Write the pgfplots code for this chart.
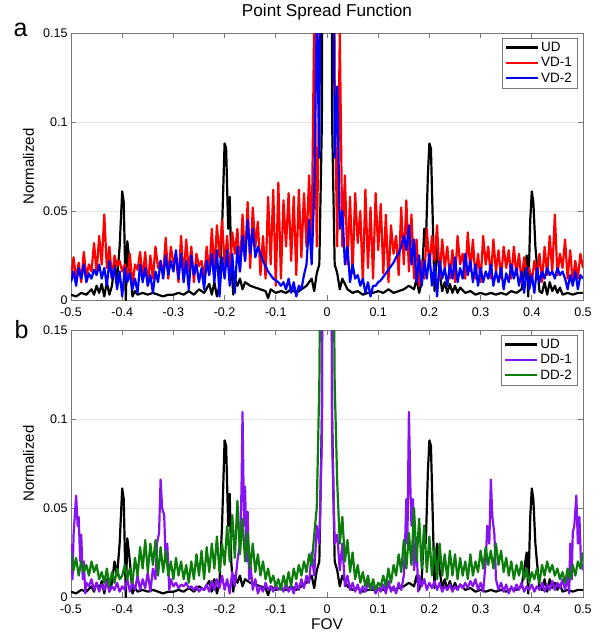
\documentclass[border=0pt]{standalone}
\usepackage{fontspec}
\setmainfont{Liberation Sans}
\usepackage{pgfplots}
\usepackage{pgfplotstable}
\pgfplotsset{compat=1.18}

\definecolor{ddone}{RGB}{135,20,240}
\definecolor{ddtwo}{RGB}{10,125,10}
\definecolor{framegray}{RGB}{120,120,120}

% undersampled (UD), same in both panels
\pgfplotstableread[row sep=\\]{x y\\
-0.500 0.003\\ -0.490 0.002\\ -0.480 0.004\\ -0.470 0.003\\ -0.460 0.006\\ -0.455 0.003\\ -0.450 0.008\\ -0.445 0.004\\
-0.440 0.009\\ -0.435 0.002\\ -0.430 0.010\\ -0.425 0.003\\ -0.420 0.008\\ -0.415 0.020\\ -0.410 0.012\\ -0.405 0.030\\
-0.400 0.061\\ -0.397 0.055\\ -0.393 0.000\\ -0.390 0.033\\ -0.385 0.020\\ -0.380 0.002\\ -0.375 0.005\\ -0.370 0.003\\
-0.360 0.004\\ -0.350 0.003\\ -0.340 0.004\\ -0.330 0.003\\ -0.320 0.002\\ -0.310 0.003\\ -0.300 0.003\\ -0.290 0.004\\
-0.280 0.003\\ -0.270 0.005\\ -0.260 0.003\\ -0.250 0.006\\ -0.240 0.004\\ -0.230 0.009\\ -0.225 0.003\\ -0.220 0.010\\
-0.215 0.002\\ -0.210 0.008\\ -0.205 0.040\\ -0.200 0.088\\ -0.197 0.085\\ -0.193 0.040\\ -0.190 0.058\\ -0.187 0.020\\
-0.183 0.003\\ -0.180 0.012\\ -0.175 0.008\\ -0.170 0.012\\ -0.165 0.006\\ -0.160 0.010\\ -0.150 0.008\\ -0.140 0.007\\
-0.130 0.006\\ -0.120 0.005\\ -0.115 0.001\\ -0.110 0.006\\ -0.100 0.004\\ -0.090 0.005\\ -0.080 0.004\\ -0.070 0.006\\
-0.060 0.004\\ -0.050 0.006\\ -0.040 0.008\\ -0.030 0.012\\ -0.025 0.005\\ -0.020 0.015\\ -0.015 0.020\\ -0.010 0.100\\
-0.005 0.800\\ 0.000 1.000\\ 0.005 0.800\\ 0.010 0.100\\ 0.015 0.020\\ 0.020 0.015\\ 0.025 0.006\\ 0.030 0.012\\
0.040 0.006\\ 0.050 0.004\\ 0.060 0.005\\ 0.070 0.003\\ 0.080 0.004\\ 0.090 0.004\\ 0.100 0.005\\ 0.110 0.004\\
0.120 0.006\\ 0.130 0.004\\ 0.140 0.005\\ 0.150 0.006\\ 0.160 0.008\\ 0.170 0.006\\ 0.175 0.012\\ 0.180 0.004\\
0.185 0.010\\ 0.190 0.040\\ 0.193 0.030\\ 0.197 0.070\\ 0.200 0.088\\ 0.203 0.085\\ 0.207 0.040\\ 0.210 0.005\\
0.215 0.030\\ 0.220 0.015\\ 0.225 0.005\\ 0.230 0.010\\ 0.235 0.004\\ 0.240 0.009\\ 0.245 0.004\\ 0.250 0.008\\
0.255 0.004\\ 0.260 0.007\\ 0.270 0.004\\ 0.280 0.005\\ 0.290 0.003\\ 0.300 0.004\\ 0.310 0.003\\ 0.320 0.004\\
0.330 0.003\\ 0.340 0.004\\ 0.350 0.003\\ 0.360 0.005\\ 0.370 0.004\\ 0.380 0.006\\ 0.385 0.015\\ 0.390 0.025\\
0.393 0.002\\ 0.397 0.045\\ 0.400 0.061\\ 0.403 0.055\\ 0.407 0.030\\ 0.410 0.020\\ 0.415 0.005\\ 0.420 0.004\\
0.425 0.010\\ 0.430 0.003\\ 0.435 0.010\\ 0.440 0.005\\ 0.445 0.008\\ 0.450 0.004\\ 0.455 0.007\\ 0.460 0.003\\
0.470 0.004\\ 0.480 0.003\\ 0.490 0.004\\ 0.500 0.004\\
}\udtab

\pgfplotstableread[row sep=\\]{x y\\
-0.500 0.012\\ -0.495 0.024\\ -0.490 0.012\\ -0.485 0.021\\ -0.480 0.010\\ -0.475 0.027\\ -0.470 0.013\\ -0.465 0.020\\
-0.460 0.016\\ -0.455 0.032\\ -0.450 0.015\\ -0.445 0.036\\ -0.440 0.020\\ -0.435 0.048\\ -0.430 0.018\\ -0.425 0.030\\
-0.420 0.012\\ -0.415 0.025\\ -0.410 0.019\\ -0.405 0.022\\ -0.400 0.016\\ -0.395 0.020\\ -0.390 0.012\\ -0.385 0.026\\
-0.380 0.008\\ -0.375 0.020\\ -0.370 0.017\\ -0.365 0.027\\ -0.360 0.012\\ -0.355 0.027\\ -0.350 0.008\\ -0.345 0.025\\
-0.340 0.012\\ -0.335 0.030\\ -0.330 0.018\\ -0.325 0.022\\ -0.320 0.014\\ -0.315 0.035\\ -0.310 0.012\\ -0.305 0.030\\
-0.300 0.021\\ -0.295 0.024\\ -0.290 0.010\\ -0.285 0.036\\ -0.280 0.012\\ -0.275 0.034\\ -0.270 0.016\\ -0.265 0.030\\
-0.260 0.010\\ -0.255 0.026\\ -0.250 0.019\\ -0.245 0.022\\ -0.240 0.012\\ -0.235 0.030\\ -0.230 0.014\\ -0.225 0.040\\
-0.220 0.016\\ -0.215 0.042\\ -0.210 0.024\\ -0.205 0.045\\ -0.200 0.020\\ -0.195 0.036\\ -0.190 0.014\\ -0.185 0.038\\
-0.180 0.026\\ -0.175 0.040\\ -0.170 0.016\\ -0.165 0.048\\ -0.160 0.022\\ -0.155 0.055\\ -0.150 0.018\\ -0.145 0.052\\
-0.140 0.030\\ -0.135 0.044\\ -0.130 0.014\\ -0.125 0.036\\ -0.120 0.012\\ -0.115 0.058\\ -0.110 0.020\\ -0.105 0.062\\
-0.100 0.008\\ -0.095 0.066\\ -0.090 0.012\\ -0.085 0.056\\ -0.080 0.030\\ -0.075 0.060\\ -0.070 0.022\\ -0.065 0.058\\
-0.060 0.014\\ -0.055 0.062\\ -0.050 0.024\\ -0.045 0.060\\ -0.040 0.030\\ -0.035 0.070\\ -0.030 0.028\\ -0.025 0.160\\
-0.020 0.030\\ -0.015 0.120\\ -0.010 0.400\\ -0.005 0.850\\ 0.000 1.000\\ 0.005 0.850\\ 0.010 0.400\\ 0.015 0.120\\
0.020 0.030\\ 0.025 0.150\\ 0.030 0.030\\ 0.035 0.070\\ 0.040 0.020\\ 0.045 0.058\\ 0.050 0.015\\ 0.055 0.060\\
0.060 0.032\\ 0.065 0.050\\ 0.070 0.010\\ 0.075 0.062\\ 0.080 0.018\\ 0.085 0.052\\ 0.090 0.012\\ 0.095 0.060\\
0.100 0.028\\ 0.105 0.054\\ 0.110 0.015\\ 0.115 0.048\\ 0.120 0.010\\ 0.125 0.042\\ 0.130 0.026\\ 0.135 0.036\\
0.140 0.014\\ 0.145 0.052\\ 0.150 0.020\\ 0.155 0.056\\ 0.160 0.016\\ 0.165 0.048\\ 0.170 0.012\\ 0.175 0.034\\
0.180 0.008\\ 0.185 0.022\\ 0.190 0.012\\ 0.195 0.040\\ 0.200 0.018\\ 0.205 0.036\\ 0.210 0.022\\ 0.215 0.042\\
0.220 0.012\\ 0.225 0.034\\ 0.230 0.018\\ 0.235 0.030\\ 0.240 0.012\\ 0.245 0.028\\ 0.250 0.010\\ 0.255 0.036\\
0.260 0.020\\ 0.265 0.026\\ 0.270 0.012\\ 0.275 0.038\\ 0.280 0.016\\ 0.285 0.034\\ 0.290 0.012\\ 0.295 0.026\\
0.300 0.010\\ 0.305 0.036\\ 0.310 0.020\\ 0.315 0.030\\ 0.320 0.012\\ 0.325 0.034\\ 0.330 0.016\\ 0.335 0.028\\
0.340 0.012\\ 0.345 0.030\\ 0.350 0.018\\ 0.355 0.028\\ 0.360 0.012\\ 0.365 0.030\\ 0.370 0.014\\ 0.375 0.026\\
0.380 0.010\\ 0.385 0.024\\ 0.390 0.016\\ 0.395 0.018\\ 0.400 0.010\\ 0.405 0.022\\ 0.410 0.014\\ 0.415 0.026\\
0.420 0.010\\ 0.425 0.030\\ 0.430 0.014\\ 0.435 0.036\\ 0.440 0.016\\ 0.445 0.048\\ 0.450 0.014\\ 0.455 0.026\\
0.460 0.018\\ 0.465 0.034\\ 0.470 0.012\\ 0.475 0.028\\ 0.480 0.010\\ 0.485 0.022\\ 0.490 0.012\\ 0.495 0.026\\
0.500 0.018\\
}\vdonetab

\pgfplotstableread[row sep=\\]{x y\\
-0.500 0.010\\ -0.495 0.016\\ -0.490 0.008\\ -0.485 0.018\\ -0.480 0.012\\ -0.475 0.020\\ -0.470 0.010\\ -0.465 0.015\\
-0.460 0.012\\ -0.455 0.017\\ -0.450 0.014\\ -0.445 0.020\\ -0.440 0.012\\ -0.435 0.018\\ -0.430 0.008\\ -0.425 0.022\\
-0.420 0.012\\ -0.415 0.018\\ -0.410 0.006\\ -0.405 0.016\\ -0.400 0.002\\ -0.395 0.018\\ -0.390 0.010\\ -0.385 0.015\\
-0.380 0.006\\ -0.375 0.012\\ -0.370 0.004\\ -0.365 0.020\\ -0.360 0.010\\ -0.355 0.018\\ -0.350 0.008\\ -0.345 0.014\\
-0.340 0.004\\ -0.335 0.016\\ -0.330 0.010\\ -0.325 0.022\\ -0.320 0.012\\ -0.315 0.025\\ -0.310 0.014\\ -0.305 0.022\\
-0.300 0.016\\ -0.295 0.028\\ -0.290 0.012\\ -0.285 0.026\\ -0.280 0.010\\ -0.275 0.022\\ -0.270 0.006\\ -0.265 0.025\\
-0.260 0.014\\ -0.255 0.020\\ -0.250 0.010\\ -0.245 0.018\\ -0.240 0.006\\ -0.235 0.022\\ -0.230 0.014\\ -0.225 0.026\\
-0.220 0.010\\ -0.215 0.028\\ -0.210 0.002\\ -0.205 0.024\\ -0.200 0.012\\ -0.195 0.028\\ -0.190 0.008\\ -0.185 0.026\\
-0.180 0.004\\ -0.175 0.030\\ -0.170 0.016\\ -0.165 0.036\\ -0.160 0.022\\ -0.155 0.045\\ -0.150 0.026\\ -0.145 0.040\\
-0.140 0.024\\ -0.135 0.030\\ -0.130 0.026\\ -0.125 0.022\\ -0.120 0.019\\ -0.115 0.016\\ -0.110 0.014\\ -0.105 0.012\\
-0.100 0.011\\ -0.095 0.010\\ -0.090 0.008\\ -0.085 0.010\\ -0.080 0.006\\ -0.075 0.012\\ -0.070 0.004\\ -0.065 0.010\\
-0.060 0.002\\ -0.055 0.008\\ -0.050 0.006\\ -0.045 0.014\\ -0.040 0.020\\ -0.035 0.045\\ -0.030 0.020\\ -0.025 0.060\\
-0.020 0.160\\ -0.015 0.080\\ -0.010 0.400\\ -0.005 0.850\\ 0.000 1.000\\ 0.005 0.850\\ 0.010 0.400\\ 0.015 0.080\\
0.020 0.120\\ 0.025 0.040\\ 0.030 0.050\\ 0.035 0.020\\ 0.040 0.030\\ 0.045 0.010\\ 0.050 0.020\\ 0.055 0.012\\
0.060 0.014\\ 0.065 0.008\\ 0.070 0.012\\ 0.075 0.004\\ 0.080 0.010\\ 0.085 0.002\\ 0.090 0.008\\ 0.095 0.008\\
0.100 0.010\\ 0.105 0.011\\ 0.110 0.013\\ 0.115 0.015\\ 0.120 0.017\\ 0.125 0.019\\ 0.130 0.021\\ 0.135 0.024\\
0.140 0.026\\ 0.145 0.030\\ 0.150 0.036\\ 0.155 0.028\\ 0.160 0.042\\ 0.165 0.020\\ 0.170 0.034\\ 0.175 0.010\\
0.180 0.025\\ 0.185 0.008\\ 0.190 0.022\\ 0.195 0.012\\ 0.200 0.026\\ 0.205 0.008\\ 0.210 0.020\\ 0.215 0.002\\
0.220 0.022\\ 0.225 0.012\\ 0.230 0.018\\ 0.235 0.008\\ 0.240 0.020\\ 0.245 0.012\\ 0.250 0.024\\ 0.255 0.010\\
0.260 0.018\\ 0.265 0.012\\ 0.270 0.026\\ 0.275 0.014\\ 0.280 0.022\\ 0.285 0.010\\ 0.290 0.020\\ 0.295 0.008\\
0.300 0.018\\ 0.305 0.010\\ 0.310 0.016\\ 0.315 0.012\\ 0.320 0.020\\ 0.325 0.008\\ 0.330 0.016\\ 0.335 0.010\\
0.340 0.018\\ 0.345 0.006\\ 0.350 0.015\\ 0.355 0.010\\ 0.360 0.020\\ 0.365 0.012\\ 0.370 0.018\\ 0.375 0.008\\
0.380 0.016\\ 0.385 0.004\\ 0.390 0.018\\ 0.395 0.006\\ 0.400 0.014\\ 0.405 0.004\\ 0.410 0.018\\ 0.415 0.010\\
0.420 0.016\\ 0.425 0.012\\ 0.430 0.018\\ 0.435 0.014\\ 0.440 0.016\\ 0.445 0.012\\ 0.450 0.018\\ 0.455 0.014\\
0.460 0.016\\ 0.465 0.012\\ 0.470 0.006\\ 0.475 0.014\\ 0.480 0.008\\ 0.485 0.016\\ 0.490 0.006\\ 0.495 0.014\\
0.500 0.012\\
}\vdtwotab

\pgfplotstableread[row sep=\\]{x y\\
-0.500 0.030\\ -0.497 0.010\\ -0.495 0.035\\ -0.490 0.057\\ -0.487 0.040\\ -0.485 0.045\\ -0.482 0.020\\ -0.480 0.035\\
-0.477 0.010\\ -0.475 0.020\\ -0.472 0.002\\ -0.470 0.008\\ -0.465 0.006\\ -0.460 0.010\\ -0.455 0.004\\ -0.450 0.008\\
-0.445 0.003\\ -0.440 0.007\\ -0.435 0.004\\ -0.430 0.009\\ -0.425 0.003\\ -0.420 0.006\\ -0.415 0.004\\ -0.410 0.008\\
-0.405 0.003\\ -0.400 0.006\\ -0.395 0.004\\ -0.390 0.010\\ -0.385 0.003\\ -0.380 0.008\\ -0.375 0.004\\ -0.370 0.012\\
-0.365 0.004\\ -0.360 0.010\\ -0.355 0.005\\ -0.350 0.014\\ -0.345 0.003\\ -0.340 0.016\\ -0.335 0.010\\ -0.332 0.030\\
-0.328 0.036\\ -0.325 0.066\\ -0.322 0.050\\ -0.318 0.046\\ -0.315 0.020\\ -0.312 0.030\\ -0.308 0.004\\ -0.305 0.010\\
-0.300 0.006\\ -0.295 0.008\\ -0.290 0.005\\ -0.285 0.007\\ -0.280 0.006\\ -0.275 0.008\\ -0.270 0.005\\ -0.265 0.006\\
-0.260 0.004\\ -0.255 0.006\\ -0.250 0.003\\ -0.245 0.005\\ -0.240 0.004\\ -0.235 0.007\\ -0.230 0.003\\ -0.225 0.009\\
-0.220 0.004\\ -0.215 0.010\\ -0.210 0.005\\ -0.205 0.012\\ -0.200 0.004\\ -0.195 0.010\\ -0.190 0.002\\ -0.185 0.014\\
-0.180 0.006\\ -0.175 0.020\\ -0.170 0.030\\ -0.167 0.060\\ -0.165 0.104\\ -0.162 0.040\\ -0.160 0.062\\ -0.157 0.020\\
-0.155 0.048\\ -0.152 0.010\\ -0.150 0.020\\ -0.145 0.004\\ -0.140 0.010\\ -0.135 0.002\\ -0.130 0.006\\ -0.125 0.003\\
-0.120 0.008\\ -0.115 0.004\\ -0.110 0.006\\ -0.105 0.003\\ -0.100 0.007\\ -0.095 0.004\\ -0.090 0.006\\ -0.085 0.003\\
-0.080 0.008\\ -0.075 0.003\\ -0.070 0.006\\ -0.065 0.002\\ -0.060 0.008\\ -0.055 0.004\\ -0.050 0.010\\ -0.045 0.005\\
-0.040 0.012\\ -0.035 0.008\\ -0.030 0.025\\ -0.025 0.012\\ -0.020 0.040\\ -0.015 0.030\\ -0.010 0.090\\ -0.005 0.600\\
0.000 1.000\\ 0.005 0.600\\ 0.010 0.090\\ 0.015 0.030\\ 0.020 0.035\\ 0.025 0.015\\ 0.030 0.030\\ 0.035 0.006\\
0.040 0.012\\ 0.045 0.004\\ 0.050 0.008\\ 0.055 0.003\\ 0.060 0.007\\ 0.065 0.002\\ 0.070 0.006\\ 0.075 0.003\\
0.080 0.008\\ 0.085 0.004\\ 0.090 0.006\\ 0.095 0.002\\ 0.100 0.005\\ 0.105 0.003\\ 0.110 0.007\\ 0.115 0.002\\
0.120 0.009\\ 0.125 0.003\\ 0.130 0.006\\ 0.135 0.002\\ 0.140 0.008\\ 0.145 0.004\\ 0.150 0.012\\ 0.153 0.035\\
0.155 0.055\\ 0.157 0.030\\ 0.160 0.104\\ 0.163 0.060\\ 0.165 0.040\\ 0.168 0.055\\ 0.170 0.015\\ 0.175 0.030\\
0.178 0.003\\ 0.180 0.012\\ 0.185 0.006\\ 0.190 0.010\\ 0.195 0.004\\ 0.200 0.008\\ 0.205 0.005\\ 0.210 0.009\\
0.215 0.004\\ 0.220 0.008\\ 0.225 0.003\\ 0.230 0.006\\ 0.235 0.004\\ 0.240 0.007\\ 0.245 0.003\\ 0.250 0.006\\
0.255 0.004\\ 0.260 0.007\\ 0.265 0.005\\ 0.270 0.008\\ 0.275 0.005\\ 0.280 0.009\\ 0.285 0.006\\ 0.290 0.010\\
0.295 0.004\\ 0.300 0.008\\ 0.305 0.003\\ 0.310 0.020\\ 0.313 0.040\\ 0.317 0.030\\ 0.320 0.066\\ 0.323 0.045\\
0.327 0.035\\ 0.330 0.010\\ 0.335 0.004\\ 0.340 0.008\\ 0.345 0.003\\ 0.350 0.007\\ 0.355 0.002\\ 0.360 0.006\\
0.365 0.003\\ 0.370 0.007\\ 0.375 0.004\\ 0.380 0.008\\ 0.385 0.003\\ 0.390 0.006\\ 0.395 0.004\\ 0.400 0.007\\
0.405 0.003\\ 0.410 0.006\\ 0.415 0.004\\ 0.420 0.008\\ 0.425 0.003\\ 0.430 0.007\\ 0.435 0.004\\ 0.440 0.009\\
0.445 0.004\\ 0.450 0.008\\ 0.455 0.005\\ 0.460 0.010\\ 0.465 0.004\\ 0.470 0.012\\ 0.473 0.002\\ 0.475 0.030\\
0.478 0.010\\ 0.480 0.036\\ 0.483 0.040\\ 0.487 0.057\\ 0.490 0.030\\ 0.493 0.045\\ 0.496 0.020\\ 0.500 0.015\\
}\ddonetab

\pgfplotstableread[row sep=\\]{x y\\
-0.500 0.025\\ -0.495 0.015\\ -0.490 0.022\\ -0.485 0.012\\ -0.480 0.020\\ -0.475 0.014\\ -0.470 0.018\\ -0.465 0.012\\
-0.460 0.020\\ -0.455 0.014\\ -0.450 0.018\\ -0.445 0.010\\ -0.440 0.014\\ -0.435 0.008\\ -0.430 0.016\\ -0.425 0.006\\
-0.420 0.014\\ -0.415 0.008\\ -0.410 0.016\\ -0.405 0.010\\ -0.400 0.012\\ -0.395 0.018\\ -0.390 0.010\\ -0.385 0.016\\
-0.380 0.008\\ -0.375 0.022\\ -0.370 0.012\\ -0.365 0.028\\ -0.360 0.016\\ -0.355 0.032\\ -0.350 0.014\\ -0.345 0.030\\
-0.340 0.018\\ -0.335 0.032\\ -0.330 0.012\\ -0.325 0.028\\ -0.320 0.014\\ -0.315 0.026\\ -0.310 0.012\\ -0.305 0.020\\
-0.300 0.010\\ -0.295 0.022\\ -0.290 0.012\\ -0.285 0.020\\ -0.280 0.010\\ -0.275 0.018\\ -0.270 0.008\\ -0.265 0.020\\
-0.260 0.010\\ -0.255 0.024\\ -0.250 0.012\\ -0.245 0.026\\ -0.240 0.010\\ -0.235 0.028\\ -0.230 0.014\\ -0.225 0.030\\
-0.220 0.016\\ -0.215 0.034\\ -0.210 0.014\\ -0.205 0.030\\ -0.200 0.018\\ -0.195 0.040\\ -0.190 0.020\\ -0.185 0.046\\
-0.180 0.022\\ -0.175 0.054\\ -0.170 0.024\\ -0.165 0.044\\ -0.160 0.020\\ -0.155 0.036\\ -0.150 0.016\\ -0.145 0.030\\
-0.140 0.014\\ -0.135 0.024\\ -0.130 0.012\\ -0.125 0.020\\ -0.120 0.010\\ -0.115 0.016\\ -0.110 0.008\\ -0.105 0.012\\
-0.100 0.006\\ -0.095 0.010\\ -0.090 0.004\\ -0.085 0.012\\ -0.080 0.006\\ -0.075 0.014\\ -0.070 0.006\\ -0.065 0.016\\
-0.060 0.010\\ -0.055 0.018\\ -0.050 0.012\\ -0.045 0.020\\ -0.040 0.014\\ -0.035 0.024\\ -0.030 0.018\\ -0.025 0.035\\
-0.020 0.050\\ -0.015 0.120\\ -0.010 0.300\\ -0.005 0.800\\ 0.000 1.000\\ 0.005 0.800\\ 0.010 0.300\\ 0.015 0.120\\
0.020 0.064\\ 0.025 0.030\\ 0.030 0.045\\ 0.035 0.020\\ 0.040 0.032\\ 0.045 0.014\\ 0.050 0.025\\ 0.055 0.010\\
0.060 0.018\\ 0.065 0.008\\ 0.070 0.014\\ 0.075 0.006\\ 0.080 0.012\\ 0.085 0.004\\ 0.090 0.010\\ 0.095 0.004\\
0.100 0.008\\ 0.105 0.006\\ 0.110 0.012\\ 0.115 0.006\\ 0.120 0.016\\ 0.125 0.008\\ 0.130 0.018\\ 0.135 0.012\\
0.140 0.024\\ 0.145 0.014\\ 0.150 0.032\\ 0.155 0.016\\ 0.160 0.036\\ 0.165 0.018\\ 0.170 0.050\\ 0.175 0.020\\
0.180 0.044\\ 0.185 0.016\\ 0.190 0.040\\ 0.195 0.014\\ 0.200 0.034\\ 0.205 0.012\\ 0.210 0.028\\ 0.215 0.010\\
0.220 0.030\\ 0.225 0.012\\ 0.230 0.024\\ 0.235 0.010\\ 0.240 0.026\\ 0.245 0.012\\ 0.250 0.024\\ 0.255 0.010\\
0.260 0.022\\ 0.265 0.012\\ 0.270 0.020\\ 0.275 0.010\\ 0.280 0.024\\ 0.285 0.012\\ 0.290 0.020\\ 0.295 0.014\\
0.300 0.026\\ 0.305 0.016\\ 0.310 0.028\\ 0.315 0.018\\ 0.320 0.026\\ 0.325 0.016\\ 0.330 0.030\\ 0.335 0.018\\
0.340 0.026\\ 0.345 0.014\\ 0.350 0.022\\ 0.355 0.012\\ 0.360 0.020\\ 0.365 0.010\\ 0.370 0.018\\ 0.375 0.012\\
0.380 0.020\\ 0.385 0.010\\ 0.390 0.016\\ 0.395 0.008\\ 0.400 0.014\\ 0.405 0.010\\ 0.410 0.016\\ 0.415 0.008\\
0.420 0.018\\ 0.425 0.012\\ 0.430 0.020\\ 0.435 0.014\\ 0.440 0.018\\ 0.445 0.012\\ 0.450 0.016\\ 0.455 0.010\\
0.460 0.014\\ 0.465 0.008\\ 0.470 0.016\\ 0.475 0.010\\ 0.480 0.018\\ 0.485 0.012\\ 0.490 0.020\\ 0.495 0.016\\
0.500 0.025\\
}\ddtwotab

\pgfplotsset{
  psf/.style={
    scale only axis, width=512pt, height=267pt,
    xmin=-0.5, xmax=0.5, ymin=0, ymax=0.15,
    xtick={-0.5,-0.4,-0.3,-0.2,-0.1,0,0.1,0.2,0.3,0.4,0.5},
    xticklabels={-0.5,-0.4,-0.3,-0.2,-0.1,0,0.1,0.2,0.3,0.4,0.5},
    ytick={0,0.05,0.1,0.15},
    yticklabels={0,0.05,0.1,0.15},
    tick align=inside, major tick length=5pt,
    axis line style={framegray, line width=0.6pt},
    every tick/.style={framegray, line width=0.6pt},
    ymajorgrids, grid style={gray!22, line width=0.6pt},
    ticklabel style={font=\fontsize{12.5}{14}\selectfont},
    xticklabel style={yshift=-4pt},
    ylabel={Normalized},
    ylabel style={font=\fontsize{15}{18}\selectfont, at={(axis description cs:-0.083,0.5)}, anchor=center},
    legend style={at={(axis description cs:1,1)}, anchor=north east, xshift=-6pt, yshift=-5pt,
      draw=framegray, fill=white, font=\fontsize{13.5}{16}\selectfont,
      inner xsep=3pt, inner ysep=2pt, row sep=0.5pt},
    legend cell align=left,
    legend image code/.code={\draw[#1] (0pt,0pt) -- (32pt,0pt);},
    legend image post style={line width=2.2pt},
    every axis plot/.append style={line width=2.2pt, line join=round, mark=none},
  }
}

\begin{document}
\begin{tikzpicture}
\useasboundingbox (0pt,0pt) rectangle (602pt,-640pt);

\begin{axis}[psf, at={(71pt,-300pt)}, anchor=south west,
  title={Point Spread Function},
  title style={font=\fontsize{17.2}{20}\selectfont, at={(axis description cs:0.5,1)}, anchor=base, yshift=10.3pt}]
  \addplot[black] table[x=x, y=y] {\udtab};
  \addplot[red] table[x=x, y=y] {\vdonetab};
  \addplot[blue] table[x=x, y=y] {\vdtwotab};
  \legend{UD, VD-1, VD-2}
\end{axis}

\begin{axis}[psf, at={(71pt,-597pt)}, anchor=south west,
  xlabel={FOV},
  xlabel style={font=\fontsize{15.5}{18}\selectfont, at={(axis description cs:0.5,-0.101)}, anchor=center}]
  \addplot[black] table[x=x, y=y] {\udtab};
  \addplot[ddone] table[x=x, y=y] {\ddonetab};
  \addplot[ddtwo] table[x=x, y=y] {\ddtwotab};
  \legend{UD, DD-1, DD-2}
\end{axis}

\node[anchor=base west, font=\fontsize{25}{28}\selectfont] at (10pt,-36.7pt) {a};
\node[anchor=base west, font=\fontsize{25}{28}\selectfont] at (11pt,-338pt) {b};
\end{tikzpicture}
\end{document}
